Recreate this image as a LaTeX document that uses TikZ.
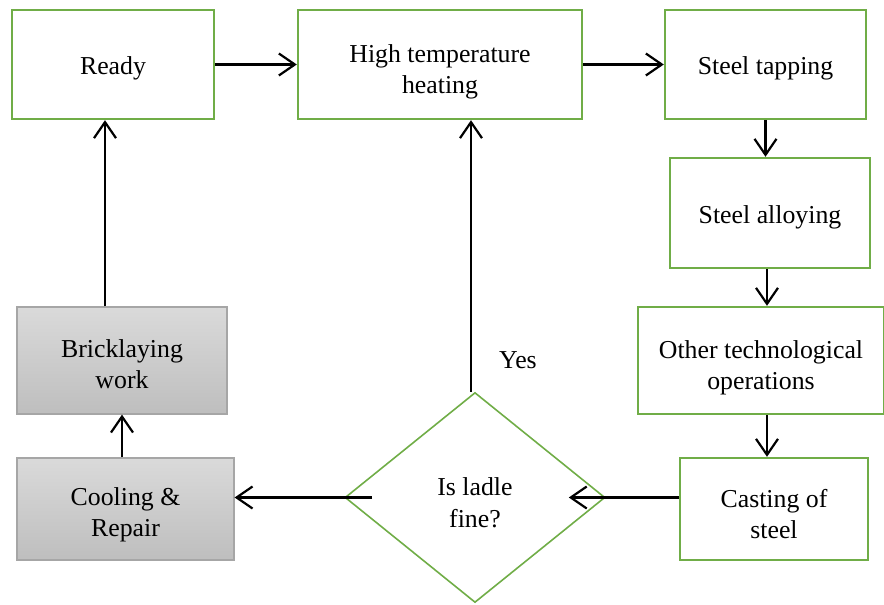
\documentclass[tikz,border=0pt]{standalone}
\usepackage{fontspec}
\setmainfont{Liberation Serif}
\usepackage{tikz}
\usetikzlibrary{arrows.meta,positioning,calc,shapes.geometric}
\definecolor{boxgreen}{RGB}{112,173,71}
\definecolor{boxgrayline}{RGB}{166,166,166}
\newcommand{\padtop}[1]{\rule{0pt}{#1}}

\begin{document}
\begin{tikzpicture}[
  x=0.5pt, y=-0.5pt,
  box/.style={draw=boxgreen, line width=1.2pt, inner sep=0pt, align=center, font=\fontsize{12.9}{15.5}\selectfont},
  graybox/.style={draw=boxgrayline, line width=0.6pt, top color={rgb,255:red,218;green,218;blue,218}, bottom color={rgb,255:red,190;green,190;blue,190}, inner sep=0pt, align=center, font=\fontsize{12.9}{15.5}\selectfont},
  decision/.style={diamond, draw=boxgreen, line width=0.8pt, inner sep=0pt, align=center, font=\fontsize{12.9}{16}\selectfont},
  arrow/.style={-{Straight Barb[length=8pt, width=11pt]}, line width=1.1pt},
  label/.style={font=\fontsize{12.9}{16}\selectfont}
]
\useasboundingbox (0,0) rectangle (884,605);

\node[box, minimum width=101pt, minimum height=54.5pt] (ready) at (113,64.5) {\padtop{13pt}Ready};
\node[box, minimum width=142pt, minimum height=54.5pt] (heat) at (440,64.5) {\padtop{16pt}High temperature\\heating};
\node[box, minimum width=100.5pt, minimum height=54.5pt] (tap) at (765.5,64.5) {\padtop{13pt}Steel tapping};
\node[box, minimum width=100pt, minimum height=55pt] (alloy) at (770,213) {\padtop{13pt}Steel alloying};
\node[box, minimum width=123pt, minimum height=53.5pt] (other) at (761,360.5) {\padtop{16pt}Other technological\\operations};
\node[box, minimum width=94pt, minimum height=51pt] (cast) at (774,509) {\padtop{14pt}Casting of\\steel};
\node[decision, minimum width=130pt, minimum height=105pt] (ladle) at (475,497.5) {\padtop{14pt}Is ladle\\fine?};
\node[graybox, minimum width=108.5pt, minimum height=51pt] (cool) at (125.5,509) {\padtop{15pt}Cooling \&\\Repair};
\node[graybox, minimum width=105pt, minimum height=53.5pt] (brick) at (122,360.5) {\padtop{13pt}Bricklaying\\work};

\node[label] (yes) at (518,360) {Yes};

\draw[arrow] (ready) -- (heat);
\draw[arrow] (heat) -- (tap);
\draw[arrow] (tap.south) -- (tap.south |- alloy.north);
\draw[arrow] ([xshift=-1.5pt]alloy.south) -- ([xshift=-1.5pt]alloy.south |- other.north);
\draw[arrow] ([xshift=-1.5pt]alloy.south |- other.south) -- ([xshift=-1.5pt]alloy.south |- cast.north);
\draw[arrow, shorten >=-18.5pt] (cast.west |- ladle.east) -- (ladle.east);
\draw[arrow, shorten <=-14pt] (ladle.west) -- (ladle.west -| cool.east);
\draw[arrow] (brick.south |- cool.north) -- (brick.south);
\draw[arrow] ([xshift=-8.5pt]brick.north) -- ([xshift=-8.5pt]brick.north |- ready.south);
\draw[arrow] ([xshift=-2pt]ladle.north) -- ([xshift=-2pt]ladle.north |- heat.south);

\end{tikzpicture}
\end{document}
